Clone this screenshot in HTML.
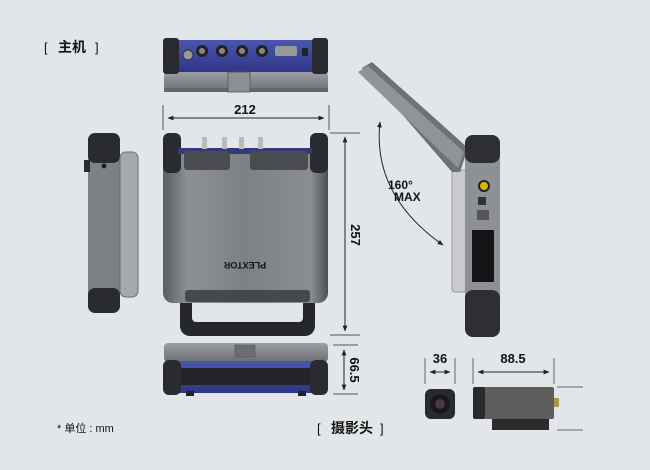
<!DOCTYPE html>
<html><head><meta charset="utf-8"><style>
html,body{margin:0;padding:0;background:#e3e6e8;}
svg{display:block}
text{font-family:"Liberation Sans","Noto Sans CJK SC",sans-serif;font-weight:bold;fill:#111}
text.n{font-weight:normal}
</style></head><body>
<svg width="650" height="470" viewBox="0 0 650 470" xmlns="http://www.w3.org/2000/svg">
<defs>
<linearGradient id="gb" x1="0" y1="0" x2="1" y2="0">
<stop offset="0" stop-color="#5a5d62"/><stop offset="0.15" stop-color="#8d9095"/><stop offset="0.5" stop-color="#7d8085"/><stop offset="0.9" stop-color="#8a8d92"/><stop offset="1" stop-color="#4c4f54"/></linearGradient>
<linearGradient id="gv" x1="0" y1="0" x2="0" y2="1">
<stop offset="0" stop-color="#9b9ea3"/><stop offset="1" stop-color="#6b6e73"/></linearGradient>
<linearGradient id="blue" x1="0" y1="0" x2="0" y2="1">
<stop offset="0" stop-color="#4a56b0"/><stop offset="1" stop-color="#2e3685"/></linearGradient>
<marker id="ar" viewBox="0 0 10 10" refX="9" refY="5" markerWidth="6" markerHeight="6" orient="auto-start-reverse"><path d="M0,1 L10,5 L0,9 z" fill="#222"/></marker>
</defs>
<rect width="650" height="470" fill="#e3e6e8"/>

<text class="n" x="44" y="52" font-size="13">[</text>
<text x="58" y="52" font-size="14">主机</text>
<text class="n" x="95" y="52" font-size="13">]</text>

<!-- top view -->
<rect x="164" y="72" width="164" height="20" rx="4" fill="url(#gv)"/>
<rect x="164" y="88" width="164" height="4" fill="#666"/>
<rect x="178" y="40" width="136" height="32" fill="url(#blue)"/>
<rect x="163" y="38" width="16" height="36" rx="3" fill="#2a2b2e"/>
<rect x="312" y="38" width="16" height="36" rx="3" fill="#2a2b2e"/>
<rect x="228" y="72" width="22" height="20" fill="#8c8f94" stroke="#555" stroke-width="0.8"/>
<circle cx="188" cy="55" r="5" fill="#999" stroke="#333"/>
<circle cx="202" cy="51" r="6" fill="#222"/><circle cx="202" cy="51" r="3" fill="#888"/>
<circle cx="222" cy="51" r="6" fill="#222"/><circle cx="222" cy="51" r="3" fill="#888"/>
<circle cx="242" cy="51" r="6" fill="#222"/><circle cx="242" cy="51" r="3" fill="#888"/>
<circle cx="262" cy="51" r="6" fill="#222"/><circle cx="262" cy="51" r="3" fill="#888"/>
<rect x="275" y="46" width="22" height="10" rx="2" fill="#999"/>
<rect x="302" y="48" width="6" height="8" fill="#222"/>

<!-- 212 dim -->
<line x1="163" y1="105" x2="163" y2="130" stroke="#555"/>
<line x1="329" y1="105" x2="329" y2="130" stroke="#555"/>
<line x1="168" y1="118" x2="324" y2="118" stroke="#222" marker-start="url(#ar)" marker-end="url(#ar)"/>
<text x="245" y="114" font-size="13" text-anchor="middle">212</text>

<!-- front view -->
<rect x="180" y="290" width="135" height="46" rx="10" fill="#26272a"/>
<rect x="192" y="298" width="111" height="24" rx="4" fill="#e3e6e8"/>
<rect x="163" y="148" width="165" height="155" rx="10" fill="url(#gb)"/>
<rect x="163" y="133" width="18" height="40" rx="6" fill="#2a2b2e"/>
<rect x="310" y="133" width="18" height="40" rx="6" fill="#2a2b2e"/>
<rect x="178" y="148" width="134" height="6" fill="#33397a"/>
<rect x="184" y="151" width="46" height="19" rx="3" fill="#4a4c50"/>
<rect x="250" y="151" width="58" height="19" rx="3" fill="#4a4c50"/>
<rect x="202" y="137" width="5" height="12" fill="#bbb"/><rect x="222" y="137" width="5" height="12" fill="#bbb"/>
<rect x="239" y="137" width="5" height="12" fill="#bbb"/><rect x="258" y="137" width="5" height="12" fill="#bbb"/>
<rect x="185" y="290" width="125" height="12" rx="3" fill="#45484c"/>
<text x="245" y="262" font-size="9" fill="#333" text-anchor="middle" transform="rotate(180 245 262)">PLEXTOR</text>

<!-- left side view -->
<rect x="88" y="133" width="32" height="180" rx="8" fill="#7d8085"/>
<rect x="88" y="133" width="32" height="30" rx="7" fill="#2a2b2e"/>
<rect x="88" y="288" width="32" height="25" rx="7" fill="#2a2b2e"/>
<rect x="120" y="152" width="18" height="145" rx="6" fill="#a5a8ac" stroke="#6a6d72"/>
<rect x="84" y="160" width="6" height="12" fill="#2a2b2e"/>
<circle cx="104" cy="166" r="2.5" fill="#222"/>

<!-- 257 dim -->
<line x1="330" y1="133" x2="360" y2="133" stroke="#555"/>
<line x1="330" y1="335" x2="360" y2="335" stroke="#555"/>
<line x1="345" y1="137" x2="345" y2="331" stroke="#222" marker-start="url(#ar)" marker-end="url(#ar)"/>
<text x="351" y="235" font-size="13" text-anchor="middle" transform="rotate(90 351 235)">257</text>

<!-- right opened view -->
<rect x="452" y="170" width="15" height="122" rx="3" fill="#c8cacd" stroke="#999"/>
<polygon points="362,68 372,62 468,148 460,172 452,172" fill="#6e7176"/>
<polygon points="358,72 368,66 464,152 458,168" fill="#909398"/>
<rect x="465" y="135" width="35" height="202" rx="8" fill="#8d9095"/>
<rect x="465" y="135" width="35" height="28" rx="8" fill="#2e2f33"/>
<rect x="465" y="290" width="35" height="47" rx="8" fill="#2e2f33"/>
<circle cx="484" cy="186" r="5" fill="#d9b600" stroke="#222" stroke-width="2"/>
<rect x="478" y="197" width="8" height="8" fill="#333"/>
<rect x="477" y="210" width="12" height="10" fill="#555"/>
<rect x="472" y="230" width="22" height="52" fill="#151515"/>
<path d="M380,122 Q372,195 443,245" fill="none" stroke="#222" marker-start="url(#ar)" marker-end="url(#ar)"/>
<text x="388" y="189" font-size="12">160°</text>
<text x="394" y="201" font-size="12">MAX</text>

<!-- bottom view -->
<rect x="164" y="343" width="164" height="19" rx="4" fill="url(#gv)"/>
<rect x="235" y="345" width="20" height="12" fill="#6a6d72" stroke="#555" stroke-width="0.6"/>
<rect x="168" y="361" width="156" height="32" fill="url(#blue)"/>
<rect x="172" y="368" width="148" height="17" fill="#232428"/>
<rect x="186" y="391" width="8" height="5" fill="#222"/><rect x="298" y="391" width="8" height="5" fill="#222"/>
<rect x="163" y="360" width="18" height="35" rx="6" fill="#2a2b2e"/>
<rect x="310" y="360" width="18" height="35" rx="6" fill="#2a2b2e"/>

<!-- 66.5 dim -->
<line x1="333" y1="345" x2="358" y2="345" stroke="#555"/>
<line x1="333" y1="394" x2="358" y2="394" stroke="#555"/>
<line x1="344" y1="350" x2="344" y2="390" stroke="#222" marker-start="url(#ar)" marker-end="url(#ar)"/>
<text x="350" y="370" font-size="13" text-anchor="middle" transform="rotate(90 350 370)">66.5</text>

<!-- camera dims -->
<line x1="425" y1="358" x2="425" y2="384" stroke="#666"/>
<line x1="455" y1="358" x2="455" y2="384" stroke="#666"/>
<line x1="430" y1="372" x2="450" y2="372" stroke="#222" marker-start="url(#ar)" marker-end="url(#ar)"/>
<text x="440" y="363" font-size="13" text-anchor="middle">36</text>
<line x1="473" y1="358" x2="473" y2="384" stroke="#666"/>
<line x1="554" y1="358" x2="554" y2="384" stroke="#666"/>
<line x1="478" y1="372" x2="549" y2="372" stroke="#222" marker-start="url(#ar)" marker-end="url(#ar)"/>
<text x="513" y="363" font-size="13" text-anchor="middle">88.5</text>
<line x1="557" y1="387" x2="583" y2="387" stroke="#666"/>
<line x1="557" y1="430" x2="583" y2="430" stroke="#666"/>

<!-- camera front -->
<rect x="425" y="389" width="30" height="30" rx="6" fill="#2a2b2e"/>
<circle cx="440" cy="404" r="10" fill="#1a1a1c"/><circle cx="440" cy="404" r="5" fill="#4a3a44"/>
<!-- camera side -->
<rect x="492" y="418" width="57" height="12" fill="#2a2b2e"/>
<rect x="473" y="387" width="81" height="32" rx="2" fill="#5f5c5c"/>
<rect x="473" y="387" width="12" height="32" rx="2" fill="#2a2b2e"/>
<rect x="554" y="398" width="5" height="9" fill="#b0964a"/>

<text class="n" x="57" y="432" font-size="11">* 单位 : mm</text>
<text class="n" x="317" y="433" font-size="13">[</text>
<text x="331" y="433" font-size="14">摄影头</text>
<text class="n" x="380" y="433" font-size="13">]</text>
</svg>
</body></html>
